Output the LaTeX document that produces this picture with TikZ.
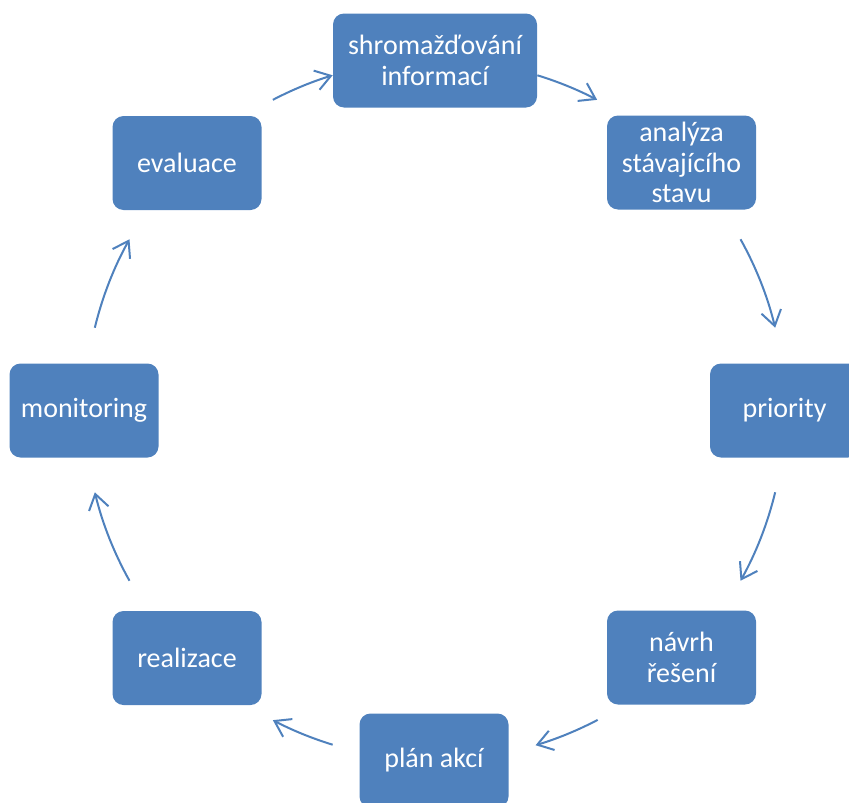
\documentclass[tikz,border=0pt]{standalone}
\usepackage{fontspec}
\setmainfont{Carlito}
\usetikzlibrary{arrows.meta,calc}
\definecolor{boxblue}{HTML}{4F81BD}
\begin{document}
\begin{tikzpicture}[x=1pt,y=1pt,
  box/.style={fill=boxblue, rounded corners=11pt, minimum width=149pt, minimum height=94pt,
    text=white, align=center, font=\fontsize{28}{30.5}\selectfont, inner sep=0pt},
  cyc/.style={draw=boxblue, line width=2pt, -{Straight Barb[length=15pt,width=20pt]}}]
\useasboundingbox (0,0) rectangle (849,-803);
\clip (0,0) rectangle (849,-803);
\coordinate (C) at (435,-410);
\node[box, minimum width=204pt] (n1) at (435,-60.5) {shromažďování\\informací};
\node[box] (n2) at (681.5,-162.5) {analýza\\stávajícího\\stavu};
\node[box] (n3) at (784.5,-410.5) {priority};
\node[box] (n4) at (681.5,-657.5) {návrh\\řešení};
\node[box] (n5) at (434,-760.5) {plán akcí};
\node[box] (n6) at (187,-658) {realizace};
\node[box] (n7) at (84,-410.5) {monitoring};
\node[box] (n8) at (187,-163) {evaluace};
% arrow start points on the cycle circle
\coordinate (a1) at ($(C)+(73:350pt)$);
\coordinate (a2) at ($(C)+(29.2:350pt)$);
\coordinate (a3) at ($(C)+(-13.6:350pt)$);
\coordinate (a4) at ($(C)+(-62.3:350pt)$);
\coordinate (a5) at ($(C)+(-107:350pt)$);
\coordinate (a6) at ($(C)+(-150.8:350pt)$);
\coordinate (a7) at ($(C)+(166.4:350pt)$);
\coordinate (a8) at ($(C)+(117.6:350pt)$);
\draw[cyc] (a1) arc[start angle=73, end angle=62.4, radius=350pt];
\draw[cyc] (a2) arc[start angle=29.2, end angle=13.6, radius=350pt];
\draw[cyc] (a3) arc[start angle=-13.6, end angle=-29.2, radius=350pt];
\draw[cyc] (a4) arc[start angle=-62.3, end angle=-73.3, radius=350pt];
\draw[cyc] (a5) arc[start angle=-107, end angle=-117.6, radius=350pt];
\draw[cyc] (a6) arc[start angle=-150.8, end angle=-166.4, radius=350pt];
\draw[cyc] (a7) arc[start angle=166.4, end angle=150.8, radius=350pt];
\draw[cyc] (a8) arc[start angle=117.6, end angle=107, radius=350pt];
\end{tikzpicture}
\end{document}
